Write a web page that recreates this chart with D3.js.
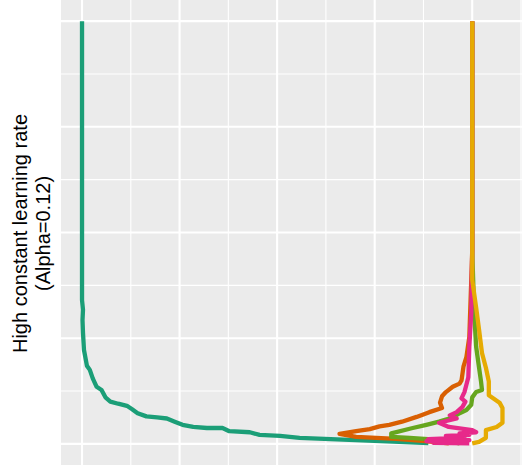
<!DOCTYPE html>
<html lang="en">
<head>
<meta charset="UTF-8">
<title>High constant learning rate</title>
<script src="https://d3js.org/d3.v7.min.js"></script>
<style>
  body {margin: 0; background: #fff}
  text {font-family: 'Liberation Sans', Arial, sans-serif}
</style>
</head>
<body>
<script>
  const width = 522;
  const height = 470;
  const panel = {left: 61, right: 523.5, top: 0, bottom: 465};

  const xBreaks = [0, 1, 2, 3, 4];
  const yBreaks = [0, 1, 2, 3, 4];
  const labelLines = ["High constant learning rate", "(Alpha=0.12)"];
  const runNames = ["run1", "run2", "run3", "run4", "run5"];
  const runColors = ["#1B9E77", "#D95F02", "#66A61E", "#E7298A", "#E6AB02"];

  // each run: x positions and y positions
  const run1X = [0, 0, 0, 0.01, 0.005, 0.01, 0.02, 0.05, 0.08, 0.11, 0.15, 0.20, 0.24, 0.29, 0.37, 0.46, 0.51, 0.57, 0.66, 0.77, 0.87, 0.95, 1.03, 1.14, 1.28, 1.44, 1.51, 1.72, 1.82, 2.03, 2.23, 2.74, 3.25, 3.55];
  const run1Y = [4, 1.83, 1.36, 1.27, 1.17, 1.05, 0.89, 0.74, 0.70, 0.62, 0.54, 0.51, 0.44, 0.40, 0.38, 0.36, 0.33, 0.29, 0.26, 0.25, 0.24, 0.21, 0.18, 0.16, 0.15, 0.15, 0.12, 0.11, 0.085, 0.075, 0.057, 0.038, 0.019, 0.008];

  const run2X = [4, 4, 3.99, 3.97, 3.94, 3.91, 3.89, 3.87, 3.80, 3.73, 3.69, 3.67, 3.69, 3.56, 3.43, 3.28, 3.15, 3.05, 2.95, 2.81, 2.64, 2.81, 3.22, 3.49, 3.76];
  const run2Y = [4, 1.83, 1.55, 1.01, 0.82, 0.73, 0.60, 0.57, 0.54, 0.49, 0.45, 0.39, 0.34, 0.30, 0.255, 0.21, 0.18, 0.165, 0.14, 0.12, 0.095, 0.066, 0.047, 0.028, 0.005];

  const run3X = [4, 4, 4.02, 4.04, 4.07, 4.09, 4.10, 4.04, 4.00, 3.99, 3.94, 3.87, 3.80, 3.66, 3.53, 3.39, 3.17, 3.17, 3.36, 3.66, 3.87];
  const run3Y = [4, 1.83, 1.24, 0.92, 0.72, 0.59, 0.51, 0.49, 0.44, 0.37, 0.32, 0.29, 0.25, 0.21, 0.18, 0.15, 0.10, 0.066, 0.057, 0.038, 0.005];

  const run4X = [4, 4, 3.99, 3.97, 3.96, 3.94, 3.92, 3.89, 3.93, 3.90, 3.84, 3.77, 3.84, 3.66, 3.76, 4.00, 4.04, 3.87, 3.97, 3.73, 3.92, 3.55, 3.97, 3.53, 3.95, 3.60, 3.97];
  const run4Y = [4, 1.83, 1.24, 0.92, 0.63, 0.56, 0.49, 0.43, 0.40, 0.35, 0.30, 0.27, 0.24, 0.20, 0.16, 0.13, 0.11, 0.10, 0.085, 0.075, 0.06, 0.045, 0.035, 0.025, 0.018, 0.01, 0.004];

  const run5X = [4, 4, 4.04, 4.07, 4.10, 4.14, 4.17, 4.17, 4.28, 4.31, 4.31, 4.25, 4.14, 4.14, 4.07, 4];
  const run5Y = [4, 1.55, 1.29, 1.08, 0.86, 0.72, 0.59, 0.46, 0.39, 0.34, 0.20, 0.16, 0.13, 0.057, 0.019, 0.005];

  const runsX = [run1X, run2X, run3X, run4X, run5X];
  const runsY = [run1Y, run2Y, run3Y, run4Y, run5Y];

  const runs = runNames.map((name, i) => ({
      name: name,
      color: runColors[i],
      points: runsX[i].map((x, j) => ({x: x, y: runsY[i][j]}))
  }));

  const allPoints = runs.flatMap(d => d.points);

  // ggplot-like 5% expansion
  function expand(ext) {
      const pad = (ext[1] - ext[0]) * 0.05;
      return [ext[0] - pad, ext[1] + pad];
  }

  const x = d3.scaleLinear()
      .domain(expand([0, d3.max(allPoints, d => d.x)]))
      .range([panel.left, panel.right]);

  const y = d3.scaleLinear()
      .domain(expand([0, d3.max(allPoints, d => d.y)]))
      .range([panel.bottom, panel.top]);

  const svg = d3.select("body").append("svg")
      .attr("width", width)
      .attr("height", height);

  svg.append("rect")
      .attr("x", panel.left)
      .attr("y", panel.top)
      .attr("width", panel.right - panel.left)
      .attr("height", panel.bottom - panel.top)
      .attr("fill", "#EBEBEB");

  const xMinor = xBreaks.slice(1).map((d, i) => (d + xBreaks[i]) / 2)
      .concat([xBreaks[xBreaks.length - 1] + 0.5]);
  const yMinor = yBreaks.slice(1).map((d, i) => (d + yBreaks[i]) / 2)
      .concat([yBreaks[yBreaks.length - 1] + 0.5]);

  const grid = svg.append("g");

  grid.selectAll("line.xminor")
      .data(xMinor.filter(d => x(d) < panel.right))
      .join("line")
      .attr("x1", d => x(d)).attr("x2", d => x(d))
      .attr("y1", panel.top).attr("y2", panel.bottom)
      .attr("stroke", "#fff").attr("stroke-width", 1.1);

  grid.selectAll("line.yminor")
      .data(yMinor.filter(d => y(d) > panel.top))
      .join("line")
      .attr("x1", panel.left).attr("x2", panel.right)
      .attr("y1", d => y(d)).attr("y2", d => y(d))
      .attr("stroke", "#fff").attr("stroke-width", 1.1);

  grid.selectAll("line.xmajor")
      .data(xBreaks)
      .join("line")
      .attr("x1", d => x(d)).attr("x2", d => x(d))
      .attr("y1", panel.top).attr("y2", panel.bottom)
      .attr("stroke", "#fff").attr("stroke-width", 2.1);

  grid.selectAll("line.ymajor")
      .data(yBreaks)
      .join("line")
      .attr("x1", panel.left).attr("x2", panel.right)
      .attr("y1", d => y(d)).attr("y2", d => y(d))
      .attr("stroke", "#fff").attr("stroke-width", 2.1);

  const line = d3.line()
      .x(d => x(d.x))
      .y(d => y(d.y));

  svg.append("g")
      .selectAll("path")
      .data(runs)
      .join("path")
      .attr("d", d => line(d.points))
      .attr("fill", "none")
      .attr("stroke", d => d.color)
      .attr("stroke-width", 4.3)
      .attr("stroke-linejoin", "round")
      .attr("stroke-linecap", "butt");

  const label = svg.append("text")
      .attr("transform", `translate(0,${(panel.top + panel.bottom) / 2 + 1}) rotate(-90)`)
      .attr("text-anchor", "middle")
      .style("font-size", "20px")
      .attr("fill", "#000");

  label.selectAll("tspan")
      .data(labelLines)
      .join("tspan")
      .attr("x", 0)
      .attr("y", (d, i) => 27 + i * 23)
      .text(d => d);
</script>
</body>
</html>
